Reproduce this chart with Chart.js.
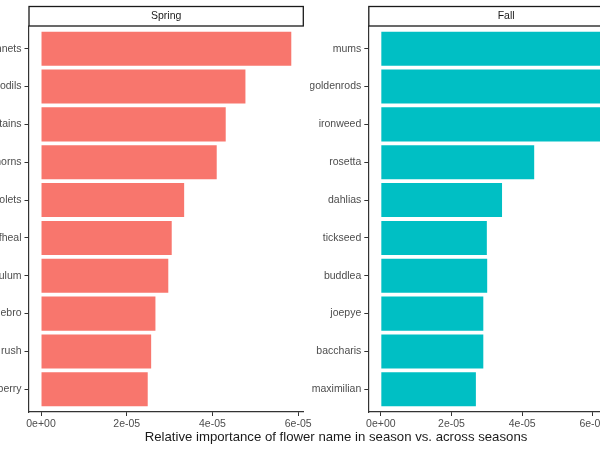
<!DOCTYPE html>
<html><head><meta charset="utf-8">
<script src="https://cdn.jsdelivr.net/npm/chart.js@4.4.0/dist/chart.umd.min.js"></script>
<style>
html,body{margin:0;padding:0;background:#fff;overflow:hidden;width:600px;height:450px;}
#wrap{position:relative;width:600px;height:450px;overflow:hidden;background:#fff;}
#c1{position:absolute;left:0;top:0;}
#c2{position:absolute;left:310px;top:0;}
#xtitle{position:absolute;left:0;width:672px;top:429px;text-align:center;font:13.2px 'Liberation Sans',Arial,sans-serif;color:#1a1a1a;white-space:nowrap;}
</style></head><body>
<div id="wrap">
<canvas id="c1" width="320" height="450"></canvas>
<canvas id="c2" width="350" height="450"></canvas>
<div id="xtitle">Relative importance of flower name in season vs. across seasons</div>
</div>
<script>
// ---- data ----
const springLabels = ["nnets","fodils","tains","horns","iolets","lfheal","ulum","ebro","rush","berry"];
const springValues = [5.84e-5,4.77e-5,4.31e-5,4.10e-5,3.34e-5,3.05e-5,2.97e-5,2.67e-5,2.57e-5,2.49e-5];
const fallLabels = ["mums","goldenrods","ironweed","rosetta","dahlias","tickseed","buddlea","joepye","baccharis","maximilian"];
const fallValues = [7.09e-5,6.95e-5,6.85e-5,4.34e-5,3.43e-5,3.00e-5,3.01e-5,2.90e-5,2.90e-5,2.69e-5];
const xTicks = [0,2e-5,4e-5,6e-5];
const panelTitles = ["Spring","Fall"];

const FONT = "'Liberation Sans', Arial, Helvetica, sans-serif";

function fmtExp(v){
  const s = Number(v).toExponential();
  const [m,e] = s.split('e');
  const sign = e[0];
  const d = e.slice(1).padStart(2,'0');
  return m + 'e' + sign + d;
}

const stripPlugin = {
  id:'strip',
  afterDraw(chart, args, opts){
    const {ctx, chartArea:a} = chart;
    ctx.save();
    ctx.fillStyle = '#ffffff';
    ctx.fillRect(a.left, 6, a.right - a.left, 20);
    ctx.strokeStyle = '#1a1a1a';
    ctx.lineWidth = 1.3;
    ctx.strokeRect(a.left + 0.5, 6.5, a.right - a.left - 1, 19.5);
    ctx.fillStyle = '#1a1a1a';
    ctx.font = '10.5px ' + FONT;
    ctx.textAlign = 'center';
    ctx.textBaseline = 'middle';
    ctx.fillText(opts.text, (a.left + a.right)/2, 16.5);
    ctx.restore();
  }
};

function makeChart(id, labels, values, color, title, yWidth, padRight){
  const mx = Math.max(...values);
  new Chart(document.getElementById(id), {
    type:'bar',
    data:{
      datasets:[{
        data: values.map((v,i)=>({x:v, y:i})),
        backgroundColor: color,
        borderWidth: 0,
        barPercentage: 0.9,
        categoryPercentage: 1.0
      }]
    },
    options:{
      indexAxis:'y',
      responsive:false,
      animation:false,
      events:[],
      layout:{padding:{left:0, right:padRight, top:26, bottom:18}},
      plugins:{legend:{display:false}, tooltip:{enabled:false}, strip:{text:title}},
      scales:{
        x:{
          type:'linear',
          min: -0.05*mx,
          max: 1.05*mx,
          afterBuildTicks(ax){ ax.ticks = xTicks.map(v=>({value:v})); },
          afterFit(ax){ ax.height = 20; },
          grid:{display:true, drawOnChartArea:false, drawTicks:true, tickLength:4, color:'#333333', lineWidth:1},
          border:{display:true, color:'#333333', width:1.2},
          ticks:{padding:2, color:'#4d4d4d', font:{family:FONT, size:10.5}, callback:(v)=>fmtExp(v), autoSkip:false, maxRotation:0}
        },
        y:{
          type:'linear',
          offset:false,
          min:-0.6,
          max: labels.length - 1 + 0.6,
          reverse:true,
          afterBuildTicks(ax){ ax.ticks = labels.map((_,i)=>({value:i})); },
          afterFit(ax){ ax.width = yWidth; },
          grid:{display:true, offset:false, drawOnChartArea:false, drawTicks:true, tickLength:4, color:'#333333', lineWidth:1},
          border:{display:true, color:'#333333', width:1.2},
          ticks:{padding:3, color:'#4d4d4d', font:{family:FONT, size:10.5}, callback:(v)=>labels[v], autoSkip:false}
        }
      }
    },
    plugins:[stripPlugin]
  });
}

makeChart('c1', springLabels, springValues, '#F8766D', panelTitles[0], 28.5, 16.2);
makeChart('c2', fallLabels, fallValues, '#00BFC4', panelTitles[1], 58.3, 16.1);
</script>
</body></html>
